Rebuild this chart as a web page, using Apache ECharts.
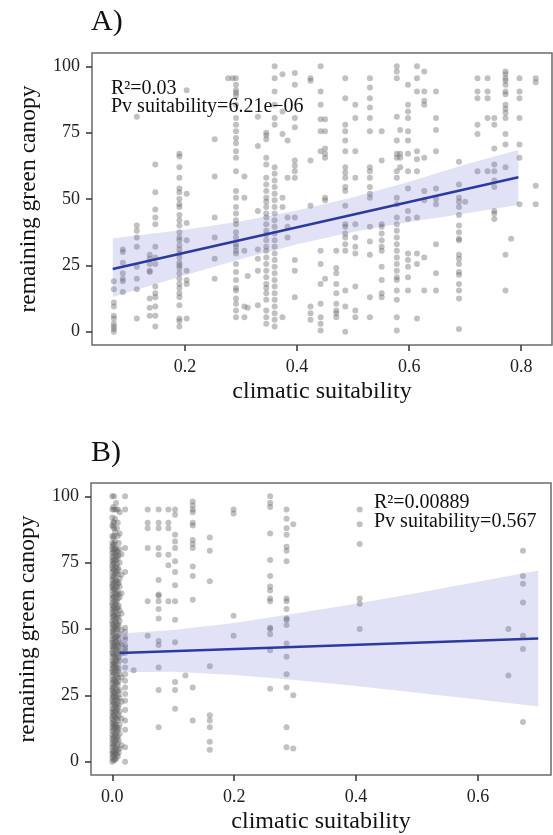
<!DOCTYPE html>
<html><head><meta charset="utf-8">
<script src="https://cdn.jsdelivr.net/npm/echarts@6/dist/echarts.min.js"></script>
<style>html,body{margin:0;padding:0;background:#fff}#c{width:553px;height:835px}</style>
</head><body><div id="c"></div>
<script>
// ---------- Panel A data ----------
const aColX = [0.073,0.089,0.114,0.137,0.147,0.19,0.203,0.253,0.277,0.285,0.291,0.306,0.312,0.33,0.345,0.36,0.374,0.383,0.396,0.424,0.442,0.45,0.47,0.486,0.504,0.53,0.551,0.578,0.584,0.598,0.614,0.627,0.648,0.689,0.70,0.722,0.74,0.752,0.772,0.782,0.797,0.826];
const aColY = [
 [19,16,11,9.5,6,5,3,2,1,0],
 [31,30,26,22,20,19,15],
 [81,40,38,35.5,32,24.5,20,16,5],
 [29,27.5,25.5,23,22.5,12.5,9,6],
 [63,52.5,46,43,40.5,32,28,25.5,17,14.5,13,9.5,6,2],
 [67,66,62,58,54,52.5,50,48,47,44,42,40,37.5,35.5,34.5,32.5,31,29.5,28,26,25,24,22,20,18,16.5,14.5,13,10,5,4,2],
 [91,52,41,34.5,23,19.5,18,5],
 [72.5,58.5,43,35.5,27.5,20],
 [95.5],
 [95.5],
 [95.5,93,91,90,89,85.5,80.5,78,75.5,73,71,68,65.5,60.5,53,50.5,47,44.5,42,40.5,37.5,35.5,33,32,30.5,29.5,25.5,22.5,19.5,16.5,15.5,12.5,10.5,8,5.5],
 [58.5,50.5,30.5,9.5,5.5],
 [21,9],
 [81,70,45.5,31,27.5,23,10],
 [75,74,72.5,65.5,63,58,55.5,53,50.5,49,47,44.5,43,40.5,38,36.5,34.5,32,30.5,28,25.5,23,20.5,18,16.5,14.5,12,8,5.5,3],
 [100,95.5,90.5,85.5,80.5,78,62,59.5,57,54.5,52,49.5,47,44.5,42,39.5,37,34.5,32,29.5,27,24.5,22,19.5,17,14.5,12,9.5,7,4.5,2],
 [97,83,74.5,50.5,47,5.5],
 [72,58,43,39.5,35.5],
 [97.5,93,80.5,77,64.5,62.5,60.5,58,43,27,23,13],
 [95.5,94.5,64.5,47.5,9.5,7,4.5],
 [100,90.5,85.5,80,75.5,68,30.5,25.5,18,10.5,5.5,3,0.5],
 [80,75.5,69,67,65.5,50.5,49.5,20],
 [30.5,24,22,18,14.5,10.5,8,7,5.5],
 [95.5,88,78,75.5,72,68,62,60,58,54.5,53,47.5,40.5,39.5,37,35.5,33,30.5,15.5,9.5,0],
 [85.5,80.5,68,58,40.5,35.5,32,29.5,17,8,5.5],
 [95.5,92,88,84.5,80.5,75.5,62,60.5,58,54.5,52,50.5,39.5,34,29,13,5.5],
 [75.5,64.5,40.5,39.5,37,34.5,32,30.5,24.5,19.5,14.5,13],
 [100,98,95.5,81,72,67,65.5,60.5,58,50.5,48,43,40.5,38,35.5,33,30.5,28,25.5,23,20.5,19.5,15.5,12,5.5,0.5],
 [76,67,65.5,62],
 [93,85.5,83,80.5,75.5,72,67,60.5,54,45.5,42.5,29.5,27,24.5,20.5,15.5],
 [100,95.5,90.5,68,65,60.5,43,29.5,25.5,5],
 [98,90.5,87,85.5,65.5,53,49.5,28,15.5],
 [90.5,80.5,76,68,54,50,48,33,22,15.5],
 [64,55.5,50.5,49,47,44,40,37.5,35,34.5,29,27.5,25.5,22.5,21.5,18,15.5,12.5,1],
 [49],
 [95.5,90.5,88,78,74.5,60.5],
 [95.5,90.5,88,80.5,60.5],
 [80.5,78,69,63,60.5,57,54.5,45.5,44.5,42.5],
 [98,97,95.5,94.5,93,90.5,89.5,85.5,84,82.5,80.5,74.5,70.5,62,29,15.5],
 [35],
 [95.5,90.5,88,80.5,70.5,65.5,48],
 [95.5,94,55,48]
];
const aLineX = [0.071, 0.795];
const aLineY = [23.6, 58.2];
const aBandX  = [0.071, 0.2, 0.3, 0.4, 0.5, 0.6, 0.7, 0.795];
const aBandLo = [13.1, 21.3, 27.4, 33.0, 37.6, 41.3, 44.5, 47.7];
const aBandHi = [35.2, 38.4, 41.6, 45.7, 50.7, 56.5, 63.0, 68.5];
const aTicksX = [0.2, 0.4, 0.6, 0.8];

// ---------- Panel B data ----------
const bColX = [0.000,0.0015,0.003,0.0045,0.006,0.0075,0.009,0.0105,0.012,0.015,0.021,0.035,0.058,0.076,0.092,0.103,0.12,0.132,0.16,0.199,0.259,0.286,0.297,0.406,0.65,0.674];
const bColY = [
 [0,1.5,3,4,5.5,7,8.5,10,11.5,13,14.5,16,17,18.5,20,21.5,23,24,25.5,27,28,29.5,31,32.5,34,35,36.5,38,39.5,41,42,43.5,45,46,47.5,49,50.5,52,53,54.5,56,57.5,59,60,61.5,63,64.5,66,67,68.5,70,71.5,73,74,75.5,77,78.5,80,81,82.5,85,89,92,95,100],
 [0.8,2.2,3.6,6,7.7,9.3,12.2,13.8,15.4,17.7,19.2,22.3,24.7,26.4,27.8,30.2,33.6,35.8,37.5,40.6,43.1,44.8,48.2,49.7,51.6,55.1,56.7,58.4,62.2,65.3,66.6,69.2,72.4,74.8,76.3,79.1,81.7,84.4,88.5,90.3,96],
 [0.5,2.5,4,6.5,9,11,13.5,15,17.5,20,22,24.5,26,28.5,31,33,35.5,37,40,42.5,44,46.5,49,51,53.5,55,58,60.5,62,65,67.5,70,72,75,77.5,80,82,85,88,90,95,100],
 [1.2,3.1,5.2,7.3,10.4,12.8,14.2,16.9,18.7,21.2,23.3,25.8,29.3,30.8,34.3,36.7,38.1,39.8,43.7,45.2,46.9,50.8,52.7,55.3,57.2,59.6,63.3,64.9,67.8,70.6,73.2,75.9,78.6,80.2,83,86.5,91.5],
 [1,3.5,5,8,10,12.5,14,16.5,19,21,23.5,25,27.5,30,32,34.5,36,38.5,41,43,45.5,47,50,52.5,54,56.5,59,61,63.5,66,68.5,71,73.5,76,78,80.5,95,97.5],
 [2.7,5.9,8.8,11.3,13.1,16.2,19.6,21.8,24.2,27.1,29.6,32.8,35.2,37.9,40.3,42.2,44.6,47.2,49.3,51.4,54.6,57.7,60.2,62.7,65.7,68.1,71.8,74.4,77.2,79.6,88],
 [2,4.5,7,9.5,12,15.5,18,20.5,23,26.5,29,31.5,34,36.5,39,41.5,44,47.5,50,52,55.5,58,61.5,64,67,70.5,73,76.5,79,85,90,95],
 [3.4,8.1,12.6,17.2,21.4,25.3,30.4,35.1,39.6,43.4,46.2,51.2,54.3,58.8,63.1,67.4,72.3,77.8,82.4],
 [5,10.5,14,19,24,27,33,38,42,45,48,53,57,62,66,69,75,80,86,94],
 [6.2,16.3,22.6,31.7,40.8,44.2,49.6,55.8,63.5,70.4,78.2],
 [100,95,80.5,71.5,50.5,49,47,46,44,43,42,41,38,35.5,33,30.5,28,25.5,23,19.5,15.5,12,5.5,0],
 [34.5],
 [95,90,88,80.5,60.5,47.5],
 [95,90,88,80.5,78,68.5,63,62.5,60.5,57.5,54,45.5,44,35.5,27,13],
 [95,90,88,78,74,60.5],
 [95,93,85.5,83,80.5,75.5,71.5,66.5,60.5,53.5,45,30,27,20],
 [32.5],
 [98,96.5,95,94,90,89,83.5,82,80.5,73.5,70,61,28,15.5],
 [84.5,79.5,68,36,17.5,15.5,13,7.5,4.5],
 [95,93.5,55,47.5],
 [100,97.5,96,86,76,70,66,64.5,61.5,60.5,50.5,50,48,42,27.5],
 [95,91.5,88,85.5,81,79.5,75.5,61.5,60.5,57.5,54,53.5,51.5,44.5,39.5,33,28,13,5.5],
 [89.5,25,5],
 [95,89.5,82,61.5,59.5,50],
 [50,32.5],
 [79.5,70,67,60,47.5,42.5,15]
];
const bLineX = [0.012, 0.699];
const bLineY = [41.0, 46.4];
const bBandX  = [0.012, 0.1, 0.2, 0.3, 0.4, 0.5, 0.6, 0.699];
const bBandLo = [33.7, 33.9, 32.7, 30.8, 28.5, 26.0, 23.4, 20.8];
const bBandHi = [48.3, 49.6, 52.3, 55.8, 59.5, 63.6, 67.8, 72.0];
const bTicksX = [0.0, 0.2, 0.4, 0.6];

const yTicks = [0, 25, 50, 75, 100];
const FONT = '"Liberation Serif","Times New Roman",serif';

function pts(colX, colY) {
  const out = [];
  colX.forEach((x, i) => colY[i].forEach(y => out.push([x, y])));
  return out;
}
function band(xs, lo, hi) { return xs.map((x, i) => [x, lo[i], hi[i]]); }

function bandSeries(idx, data) {
  return {
    type: 'custom', xAxisIndex: idx, yAxisIndex: idx, silent: true, z: 3,
    data: data, encode: { x: 0, y: [1, 2] },
    renderItem: function (params, api) {
      if (params.dataIndex !== 0) return null;
      const up = data.map(d => api.coord([d[0], d[2]]));
      const dn = data.slice().reverse().map(d => api.coord([d[0], d[1]]));
      return { type: 'polygon', shape: { points: up.concat(dn) },
               style: { fill: 'rgba(110,110,215,0.2)' } };
    }
  };
}

function xAxisCfg(idx, min, max, ticks, dec) {
  return {
    type: 'value', gridIndex: idx, min: min, max: max,
    axisLine: { show: false, onZero: false },
    splitLine: { show: false },
    axisTick: { show: true, customValues: ticks, length: 6, lineStyle: { color: '#333', width: 1.5 } },
    axisLabel: { customValues: ticks, formatter: v => Number(v).toFixed(dec), fontFamily: FONT, fontSize: 18, color: '#222', margin: 13 },
    name: 'climatic suitability', nameLocation: 'middle', nameGap: 35,
    nameTextStyle: { fontFamily: FONT, fontSize: 24, color: '#111' }
  };
}
function yAxisCfg(idx) {
  return {
    type: 'value', gridIndex: idx, min: -5, max: 105,
    axisLine: { show: false, onZero: false },
    splitLine: { show: false },
    axisTick: { show: true, customValues: yTicks, length: 6, lineStyle: { color: '#333', width: 1.5 } },
    axisLabel: { customValues: yTicks, fontFamily: FONT, fontSize: 18, color: '#222', margin: 12 },
    name: 'remaining green canopy', nameLocation: 'middle', nameGap: 51,
    nameTextStyle: { fontFamily: FONT, fontSize: 23.5, color: '#111' }
  };
}
function scatter(idx, data) {
  return { type: 'scatter', xAxisIndex: idx, yAxisIndex: idx, data: data, symbolSize: 6, silent: true, z: 2,
           itemStyle: { color: 'rgba(100,100,100,0.5)' } };
}
function regLine(idx, xs, ys) {
  return { type: 'line', xAxisIndex: idx, yAxisIndex: idx, data: xs.map((x, i) => [x, ys[i]]),
           symbol: 'none', silent: true, z: 4, lineStyle: { color: '#2a3aa0', width: 2.5 } };
}
function txt(x, y, s, size) {
  return { type: 'text', x: x, y: y, z: 10, silent: true,
           style: { text: s, font: size + 'px ' + FONT, fill: '#111', align: 'left', verticalAlign: 'middle' } };
}

const chart = echarts.init(document.getElementById('c'), null, { renderer: 'canvas' });
chart.setOption({
  animation: false,
  backgroundColor: '#fff',
  grid: [
    { left: 92, top: 53, width: 460, height: 292, show: true, borderColor: '#6b6b6b', borderWidth: 1.5, backgroundColor: '#fff' },
    { left: 91, top: 483, width: 460, height: 294, show: true, borderColor: '#6b6b6b', borderWidth: 1.5, backgroundColor: '#fff' }
  ],
  xAxis: [ xAxisCfg(0, 0.034, 0.855, aTicksX, 1), xAxisCfg(1, -0.035, 0.72, bTicksX, 1) ],
  yAxis: [ yAxisCfg(0), yAxisCfg(1) ],
  series: [
    scatter(0, pts(aColX, aColY)),
    bandSeries(0, band(aBandX, aBandLo, aBandHi)),
    regLine(0, aLineX, aLineY),
    scatter(1, pts(bColX, bColY)),
    bandSeries(1, band(bBandX, bBandLo, bBandHi)),
    regLine(1, bLineX, bLineY)
  ],
  graphic: [
    txt(91, 22.5, 'A)', 30),
    txt(111, 88.3, 'R\u00B2=0.03', 20),
    txt(111, 106.5, 'Pv suitability=6.21e\u221206', 20),
    txt(91, 453, 'B)', 30),
    txt(374, 502.5, 'R\u00B2=0.00889', 20),
    txt(374, 522, 'Pv suitability=0.567', 20)
  ]
});
</script></body></html>
